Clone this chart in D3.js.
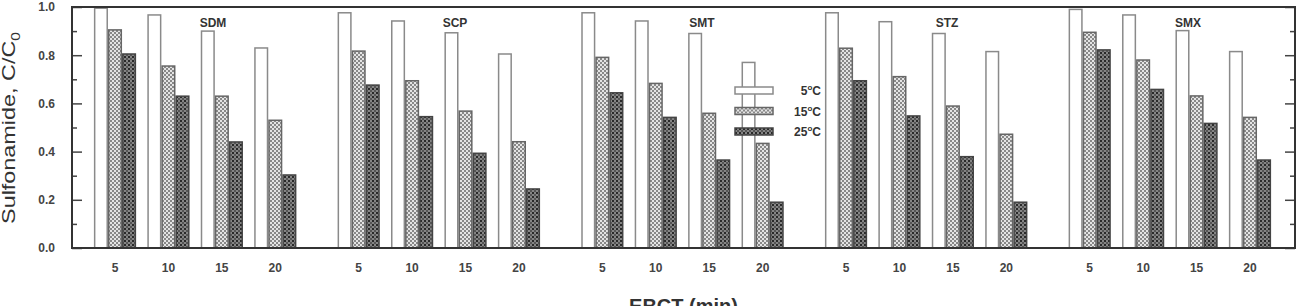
<!DOCTYPE html>
<html>
<head>
<meta charset="utf-8">
<script src="https://cdn.jsdelivr.net/npm/d3@7"></script>
<style>
  body { margin: 0; background: #fff; }
  svg { display: block; font-family: "Liberation Sans", Arial, sans-serif; }
</style>
</head>
<body>
<svg id="chart" width="1298" height="306"></svg>
<script>
const compounds = ["SDM", "SCP", "SMT", "STZ", "SMX"];
const times = ["5", "10", "15", "20"];
const temps = ["5", "15", "25"];
// C/C0 per compound (5,10,15,20 min) for each temperature
const c5  = [0.995, 0.967, 0.90, 0.83,  0.976, 0.942, 0.893, 0.805,  0.976, 0.942, 0.89, 0.77,  0.976, 0.939, 0.89, 0.815,  0.99, 0.967, 0.902, 0.815];
const c15 = [0.905, 0.755, 0.63, 0.53,  0.817, 0.694, 0.568, 0.441,  0.791, 0.683, 0.559, 0.434,  0.829, 0.711, 0.589, 0.472,  0.895, 0.78, 0.631, 0.542];
const c25 = [0.805, 0.63, 0.44, 0.303,  0.676, 0.545, 0.393, 0.245,  0.644, 0.542, 0.365, 0.19,  0.694, 0.548, 0.379, 0.19,  0.822, 0.658, 0.517, 0.365];
const yMajor = [0, 0.2, 0.4, 0.6, 0.8, 1.0];
const yMinor = [0.1, 0.3, 0.5, 0.7, 0.9];

const series = [c5, c15, c25];
const data = [];
compounds.forEach((c, ci) => {
  times.forEach((t, ti) => {
    temps.forEach((tp, k) => {
      data.push({compound: c, time: t, temp: tp, value: series[k][ci * 4 + ti]});
    });
  });
});

const svg = d3.select("#chart");
const mLeft = 72, mTop = 7, mRight = 1295, mBottom = 248;

// patterns for the shaded bars
const defs = svg.append("defs");
const p15 = defs.append("pattern").attr("id", "p15").attr("patternUnits", "userSpaceOnUse")
  .attr("width", 4).attr("height", 4);
p15.append("rect").attr("width", 4).attr("height", 4).attr("fill", "#888");
p15.append("rect").attr("width", 2).attr("height", 2).attr("fill", "#e4e4e4");
p15.append("rect").attr("x", 2).attr("y", 2).attr("width", 2).attr("height", 2).attr("fill", "#e4e4e4");
const p25 = defs.append("pattern").attr("id", "p25").attr("patternUnits", "userSpaceOnUse")
  .attr("width", 4).attr("height", 4);
p25.append("rect").attr("width", 4).attr("height", 4).attr("fill", "#858585");
p25.append("rect").attr("width", 2).attr("height", 2).attr("fill", "#2a2a2a");
p25.append("rect").attr("x", 2).attr("y", 2).attr("width", 2).attr("height", 2).attr("fill", "#555");

const fills = {"5": "#fff", "15": "url(#p15)", "25": "url(#p25)"};
const strokes = {"5": "#8a8a8a", "15": "#666", "25": "#444"};

const x0 = d3.scaleBand().domain(compounds).range([88.3, 1276.7]).paddingInner(0.123).paddingOuter(0);
const x1 = d3.scaleBand().domain(times).range([0, x0.bandwidth()]).paddingInner(0.21).paddingOuter(0.105);
const x2 = d3.scaleBand().domain(temps).range([0, x1.bandwidth()]);
const y = d3.scaleLinear().domain([0, 1]).range([mBottom, mTop]);

// bars
svg.append("g").selectAll("rect")
  .data(data)
  .enter()
  .append("rect")
  .attr("x", d => x0(d.compound) + x1(d.time) + x2(d.temp) + 0.75)
  .attr("y", d => y(d.value))
  .attr("width", x2.bandwidth() - 1.5)
  .attr("height", d => mBottom - y(d.value))
  .attr("fill", d => fills[d.temp])
  .attr("stroke", d => strokes[d.temp])
  .attr("stroke-width", 1.5);

// axes (ticks inward)
const yl = svg.append("g").attr("transform", `translate(${mLeft},0)`)
  .call(d3.axisLeft(y).tickValues(yMajor).tickSize(-10).tickPadding(17).tickFormat(d3.format(".1f")));
svg.append("g").attr("transform", `translate(${mLeft},0)`)
  .call(d3.axisLeft(y).tickValues(yMinor).tickSize(-5).tickFormat(""));
svg.append("g").attr("transform", `translate(${mRight},0)`)
  .call(d3.axisRight(y).tickValues(yMajor).tickSize(-10).tickFormat(""));
svg.append("g").attr("transform", `translate(${mRight},0)`)
  .call(d3.axisRight(y).tickValues(yMinor).tickSize(-5).tickFormat(""));
svg.selectAll(".domain").remove();
svg.selectAll(".tick line").attr("stroke", "#444").attr("stroke-width", 1.5);
yl.selectAll("text").attr("font-size", 12).attr("font-weight", "bold").attr("fill", "#444")
  .attr("font-family", "'Liberation Sans', Arial, sans-serif");

// frame
svg.append("rect").attr("x", mLeft).attr("y", mTop).attr("width", mRight - mLeft).attr("height", mBottom - mTop)
  .attr("fill", "none").attr("stroke", "#333").attr("stroke-width", 2);

// x tick labels
const xl = [];
compounds.forEach(c => times.forEach(t => xl.push({c, t})));
svg.append("g").selectAll("text")
  .data(xl)
  .enter()
  .append("text")
  .attr("x", d => x0(d.c) + x1(d.t) + x1.bandwidth() / 2)
  .attr("y", 272)
  .attr("text-anchor", "middle")
  .attr("font-size", 12).attr("font-weight", "bold").attr("fill", "#444")
  .text(d => d.t);

// compound labels
const labelX = {"SDM": 213, "SCP": 455, "SMT": 702, "STZ": 947, "SMX": 1188};
svg.append("g").selectAll("text")
  .data(compounds)
  .enter()
  .append("text")
  .attr("x", d => labelX[d])
  .attr("y", 27)
  .attr("text-anchor", "middle")
  .attr("font-size", 12).attr("font-weight", "bold").attr("fill", "#333")
  .text(d => d);

// legend
const leg = svg.append("g").attr("transform", "translate(735,87)");
temps.forEach((tp, i) => {
  const g = leg.append("g").attr("transform", `translate(0,${i * 20.5})`);
  g.append("rect").attr("width", 38).attr("height", 7)
    .attr("fill", fills[tp]).attr("stroke", strokes[tp]).attr("stroke-width", 1.5);
  const t = g.append("text").attr("x", 86).attr("y", 8).attr("text-anchor", "end")
    .attr("font-size", 12).attr("font-weight", "bold").attr("fill", "#333");
  t.append("tspan").text(tp);
  t.append("tspan").attr("dy", -5).attr("font-size", 8).text("o");
  t.append("tspan").attr("dy", 5).text("C");
});

// axis titles
const yt = svg.append("text")
  .attr("transform", "translate(15,128) rotate(-90) scale(1.3,1)")
  .attr("text-anchor", "middle")
  .attr("font-size", 18).attr("fill", "#333");
yt.append("tspan").text("Sulfonamide, C/C");
yt.append("tspan").attr("dy", 5).attr("font-size", 12).text("0");

svg.append("text")
  .attr("x", (mLeft + mRight) / 2).attr("y", 313)
  .attr("text-anchor", "middle")
  .attr("font-size", 20).attr("font-weight", "bold").attr("fill", "#333")
  .text("EBCT (min)");
</script>
</body>
</html>
